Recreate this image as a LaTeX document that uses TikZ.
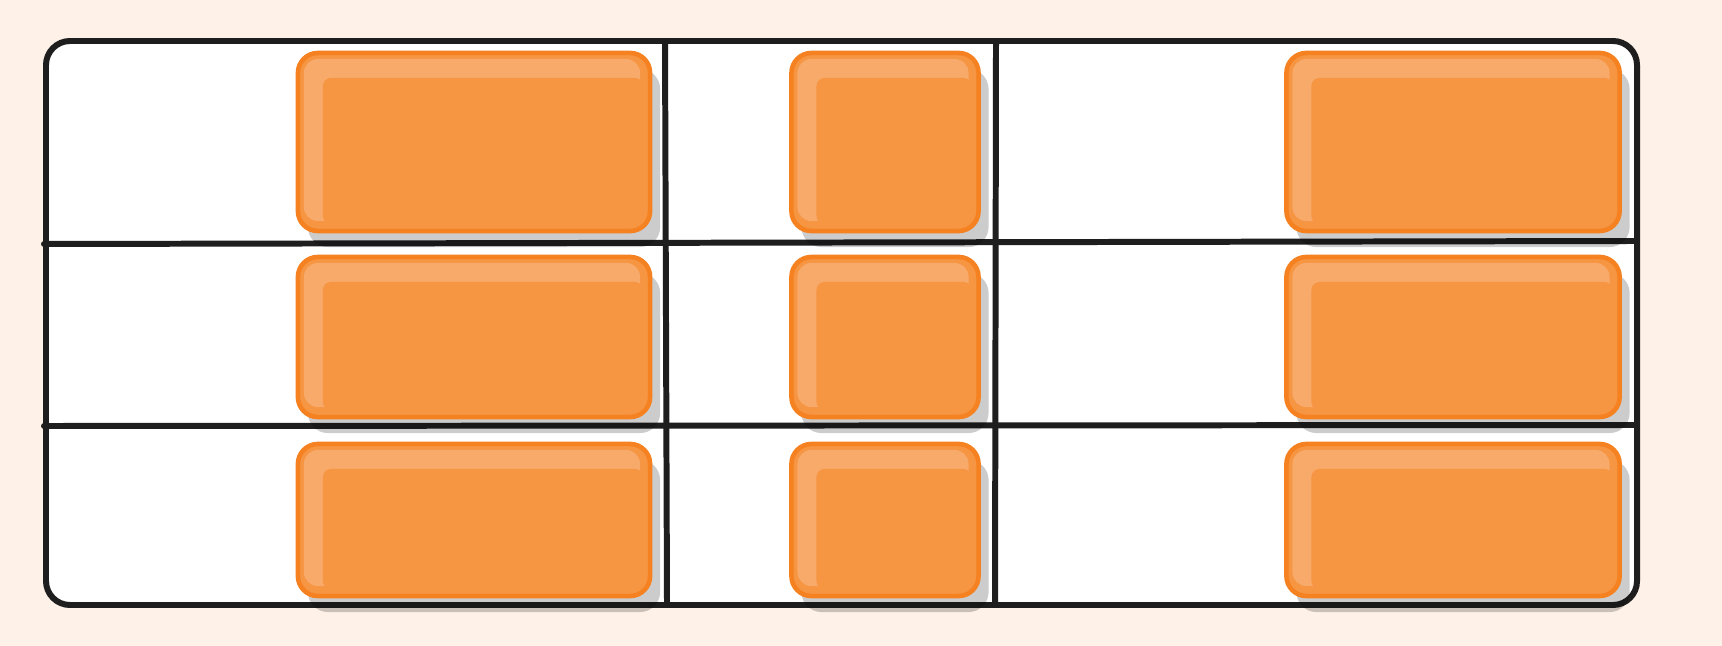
\documentclass[tikz,border=0pt]{standalone}
\usepackage{tikz}
\usetikzlibrary{calc}
\usetikzlibrary{shadows}
\usetikzlibrary{positioning}
\usepackage{xcolor}

\definecolor{paper}{HTML}{FEF1E7}
\definecolor{cellorange}{HTML}{F69542}
\definecolor{celledge}{HTML}{F58120}
\definecolor{cellhi}{HTML}{F8AA6B}
\definecolor{ink}{HTML}{1E1E1E}

\tikzset{
	frame/.style={draw=ink, fill=white, line width=1.7pt, rounded corners=0.24cm},
	gridline/.style={draw=ink, line width=1.7pt, line cap=round},
	cell/.style={draw=celledge, line width=1.3pt, rounded corners=0.2cm, fill=cellorange, inner sep=0pt,
		drop shadow={shadow xshift=0.1cm, shadow yshift=-0.16cm, fill=black, opacity=0.2},
		path picture={
			\fill[cellhi, rounded corners=0.14cm] ($(path picture bounding box.north west)+(0.06cm,-0.06cm)$) rectangle ($(path picture bounding box.south east)+(-0.1cm,0.1cm)$);
			\fill[cellorange, rounded corners=0.08cm] ($(path picture bounding box.north west)+(0.25cm,-0.25cm)$) rectangle ($(path picture bounding box.south east)+(-0.07cm,0.07cm)$);
		}},
	colA/.style={minimum width=3.52cm},
	colB/.style={minimum width=1.87cm},
	colC/.style={minimum width=3.33cm},
	rowA/.style={minimum height=1.78cm},
	rowB/.style={minimum height=1.60cm},
	rowC/.style={minimum height=1.52cm}
}

\begin{document}
\begin{tikzpicture}[x=0.01cm, y=-0.01cm]

	% paper and frame
	\fill[paper] (0,0) rectangle (1722,646);
	\coordinate (tl) at (46,41);
	\coordinate (br) at (1637,605);
	\draw[frame] (tl) rectangle (br);

	% grid
	\coordinate (h1l) at (44,244);
	\coordinate (h1r) at (1634,241);
	\coordinate (h2l) at (44,426);
	\coordinate (h2r) at (1635,425);
	\coordinate (v1t) at (665,41);
	\coordinate (v1b) at (667,605);
	\coordinate (v2t) at (996,41);
	\coordinate (v2b) at (995,605);
	\draw[gridline] (h1l) -- (h1r);
	\draw[gridline] (h2l) -- (h2r);
	\draw[gridline] (v1t) -- (v1b);
	\draw[gridline] (v2t) -- (v2b);

	% cells
	\node[cell, colA, rowA] (r1c1) at (474,142) {};
	\node[cell, colB, rowA] (r1c2) at (885,142) {};
	\node[cell, colC, rowA] (r1c3) at (1453,142) {};

	\node[cell, colA, rowB] (r2c1) at (474,337) {};
	\node[cell, colB, rowB] (r2c2) at (885,337) {};
	\node[cell, colC, rowB] (r2c3) at (1453,337) {};

	\node[cell, colA, rowC] (r3c1) at (474,520) {};
	\node[cell, colB, rowC] (r3c2) at (885,520) {};
	\node[cell, colC, rowC] (r3c3) at (1453,520) {};

\end{tikzpicture}
\end{document}
